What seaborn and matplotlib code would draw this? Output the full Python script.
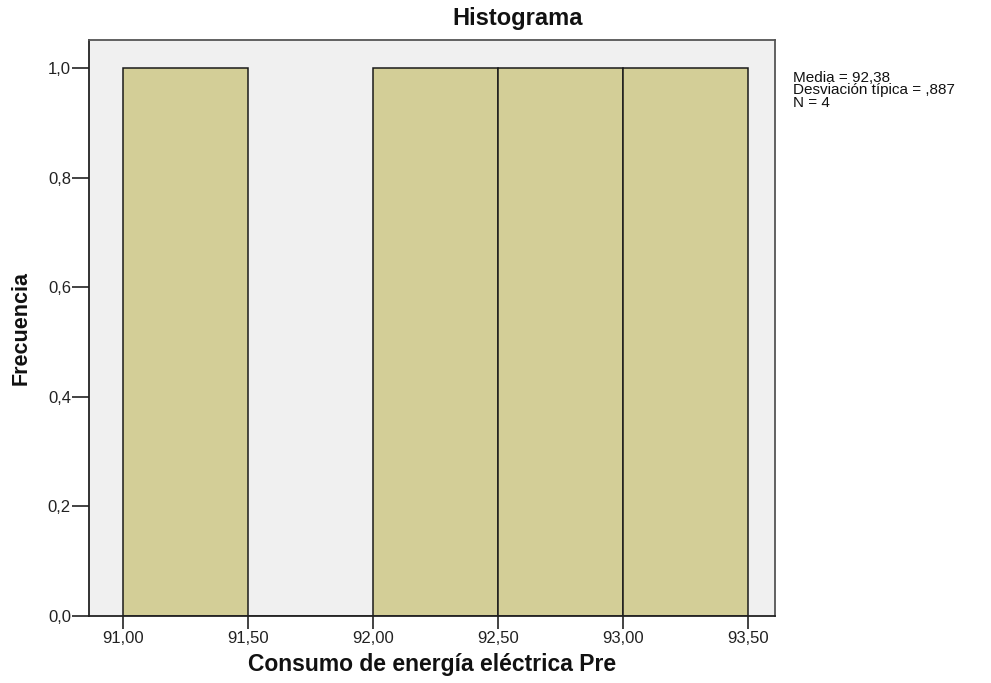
import matplotlib
matplotlib.use("Agg")
import matplotlib.pyplot as plt
import seaborn as sns
import pandas as pd

# Data (values read / estimated from the chart)
valores = [91.17, 92.28, 92.85, 93.20]
bordes = [91.0, 91.5, 92.0, 92.5, 93.0, 93.5]
xticks = [91.0, 91.5, 92.0, 92.5, 93.0, 93.5]
xtick_labels = ["91,00", "91,50", "92,00", "92,50", "93,00", "93,50"]
yticks = [0.0, 0.2, 0.4, 0.6, 0.8, 1.0]
ytick_labels = ["0,0", "0,2", "0,4", "0,6", "0,8", "1,0"]
stats_lines = ["Media = 92,38", "Desviación típica = ,887", "N = 4"]

sns.set_theme(style="white")
plt.rcParams['font.family'] = ['Liberation Sans', 'DejaVu Sans']

df = pd.DataFrame({"Consumo": valores})

fig = plt.figure(figsize=(9.91, 6.83), dpi=100)
ax = fig.add_axes([89/991, 1-616/683, (775-89)/991, (616-40)/683])
ax.set_facecolor("#F0F0F0")

sns.histplot(data=df, x="Consumo", bins=bordes, ax=ax, color="#D3CE97",
             edgecolor="#1a1a1a", linewidth=1.1, alpha=1.0)

ax.set_xlim(90.864, 93.608)
ax.set_ylim(0, 1.051)
ax.set_xticks(xticks)
ax.set_xticklabels(xtick_labels)
ax.set_yticks(yticks)
ax.set_yticklabels(ytick_labels)
ax.tick_params(axis="both", which="both", direction="out", width=1.2,
               color="#222222", labelsize=12, labelcolor="#222222",
               bottom=True, left=True, top=False, right=False)
ax.tick_params(axis="y", length=12, pad=1)
ax.tick_params(axis="x", length=9, pad=2)

for side in ["left", "bottom"]:
    ax.spines[side].set_color("#222222")
    ax.spines[side].set_linewidth(1.3)
for side in ["top", "right"]:
    ax.spines[side].set_color("#555555")
    ax.spines[side].set_linewidth(1.3)

ax.set_xlabel("Consumo de energía eléctrica Pre", fontsize=16.5, fontweight="bold",
              color="#111111", labelpad=5)
ax.set_ylabel("Frecuencia", fontsize=15.5, fontweight="bold", color="#111111",
              labelpad=12)

fig.text(518/991, 1-19/683, "Histograma", ha="center", va="center",
         fontsize=17, fontweight="bold", color="#111111")

fig.text(793/991, 1-71/683, "\n".join(stats_lines), ha="left", va="top",
         fontsize=11, color="#111111", linespacing=0.85)

fig.savefig("out.png", dpi=100)
